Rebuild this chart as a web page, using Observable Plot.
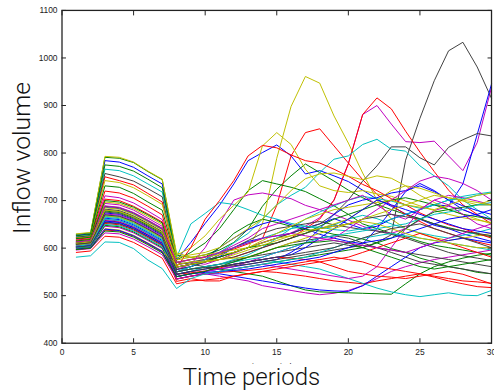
<!DOCTYPE html>
<html><head><meta charset="utf-8">
<script src="https://cdn.jsdelivr.net/npm/d3@7"></script>
<script src="https://cdn.jsdelivr.net/npm/@observablehq/plot@0.6"></script>
<style>
html,body{margin:0;padding:0;background:#fff;overflow:hidden;}
#wrap{position:relative;width:494px;height:390px;overflow:hidden;}
#xlabel{position:absolute;left:0;top:364px;width:503px;text-align:center;font-family:Roboto,sans-serif;font-weight:300;font-size:24px;line-height:26px;color:#111;}
#xlabel span{background:#fff;display:inline-block;padding:0 3px;}
</style></head><body>
<div id="wrap"><div id="chart"></div><div id="xlabel"><span>Time periods</span></div></div>
<script>
const periods = [1,2,3,4,5,6,7,8,9,10,11,12,13,14,15,16,17,18,19,20,21,22,23,24,25,26,27,28,29,30];
const xTicks = [0,5,10,15,20,25,30];
const yTicks = [400,500,600,700,800,900,1000,1100];
const palette = ["#0000ff","#008000","#ff0000","#00bfbf","#bf00bf","#bfbf00","#404040"];

const s00 = [627,630,784,781,770,752,735,575,612,652,690,735,784,801,817,794,756,763,752,740,722,703,688,672,661,648,641,630,622,614];
const s01 = [629,632,791,789,780,761,744,585,580,586,596,612,640,688,724,752,777,759,741,722,706,692,681,671,662,651,643,636,629,624];
const s02 = [622,625,750,742,733,715,697,570,576,582,589,598,609,620,690,794,843,851,815,779,744,713,690,671,656,641,631,622,613,606];
const s03 = [624,627,766,763,752,735,718,580,651,673,696,692,681,669,661,652,646,641,649,661,669,662,651,641,632,626,621,627,633,641];
const s04 = [617,620,710,706,695,678,660,565,570,566,576,589,601,612,621,632,646,664,701,778,881,900,861,824,822,825,794,763,822,938];
const s05 = [630,633,793,791,781,762,745,590,581,576,581,591,601,651,789,898,961,947,878,821,758,701,661,641,631,622,616,621,626,631];
const s06 = [623,626,757,750,741,725,708,570,566,561,566,574,581,586,591,596,601,606,611,606,601,612,628,785,873,952,1015,1033,981,915];
const s07 = [612,615,686,683,672,656,639,555,561,571,582,601,614,621,626,631,642,651,662,651,641,646,661,671,681,691,689,735,839,945];
const s08 = [626,629,775,772,762,745,727,575,591,611,641,681,721,742,735,728,719,704,689,671,651,641,631,624,614,606,601,596,591,585];
const s09 = [619,622,720,716,705,688,670,560,566,571,576,581,591,601,611,621,641,661,701,777,881,916,893,846,802,761,722,691,671,651];
const s10 = [608,611,670,667,656,640,623,560,566,576,591,611,631,661,691,711,728,759,787,794,818,829,808,804,773,752,731,701,681,661];
const s11 = [614,617,694,691,680,663,646,555,566,601,652,701,712,716,710,704,690,681,671,659,646,636,631,641,659,679,688,681,669,658];
const s12 = [621,624,742,738,727,710,692,585,601,626,661,690,718,815,843,818,766,731,721,717,721,714,709,699,689,679,671,664,659,654];
const s13 = [613,616,688,685,674,658,641,565,571,576,581,591,601,611,621,631,641,651,671,701,741,773,813,813,790,775,812,828,841,836];
const s14 = [609,612,674,671,660,644,627,550,561,576,601,621,639,651,659,649,641,629,621,614,609,641,679,719,736,721,701,689,679,671];
const s15 = [620,623,731,728,715,697,680,570,576,581,601,631,649,661,654,646,639,636,629,626,619,611,599,591,579,571,561,556,549,546];
const s16 = [616,619,703,700,688,672,655,560,601,661,700,742,794,816,811,796,784,779,766,751,734,721,704,691,674,661,649,641,631,621];
const s17 = [607,610,667,664,653,637,620,545,551,561,566,576,586,601,621,641,661,676,689,701,709,704,699,691,684,691,701,709,714,718];
const s18 = [608,611,672,669,658,642,625,545,551,546,541,536,531,521,516,511,506,502,505,511,521,536,551,561,569,576,581,586,591,596];
const s19 = [615,618,697,694,683,667,650,580,586,591,601,621,641,661,691,721,746,756,758,751,744,752,747,731,711,696,681,671,661,651];
const s20 = [611,614,682,679,668,652,635,555,561,571,586,601,616,631,641,646,651,656,649,644,639,636,629,621,611,601,591,584,579,574];
const s21 = [605,608,663,660,649,633,616,540,546,551,556,561,566,571,576,591,611,641,671,691,701,706,716,721,731,719,701,681,669,661];
const s22 = [615,618,700,697,686,670,653,550,556,561,556,551,546,541,531,521,512,508,507,506,505,504,503,525,546,561,571,579,585,589];
const s23 = [604,607,658,655,644,628,611,530,536,531,531,541,546,551,549,545,541,536,531,528,525,531,536,541,546,539,531,525,519,517];
const s24 = [606,609,665,662,651,635,618,540,546,551,561,566,571,576,571,566,561,556,546,536,526,516,508,502,498,502,506,501,500,511];
const s25 = [604,607,660,657,646,630,613,560,566,576,591,606,621,641,651,661,671,681,691,701,711,691,671,661,681,701,711,706,699,691];
const s26 = [612,615,685,682,671,655,638,575,581,586,591,596,601,611,621,626,631,641,651,661,681,701,721,731,726,716,706,699,691,701];
const s27 = [610,613,680,677,666,650,633,550,556,561,566,571,581,591,601,611,616,621,626,621,611,601,591,581,571,566,561,556,551,546];
const s28 = [603,606,657,654,643,627,610,535,541,546,546,541,536,531,526,521,516,512,510,509,521,541,561,581,601,611,616,621,616,611];
const s29 = [610,613,678,675,664,648,631,560,566,571,581,591,601,606,611,621,631,646,661,671,681,691,701,706,699,691,681,671,666,661];
const s30 = [602,605,652,649,638,622,605,545,548,552,558,566,571,576,581,579,576,571,561,551,546,541,539,536,541,546,551,545,535,525];
const s31 = [604,607,661,658,647,631,614,550,561,576,591,601,611,621,631,641,646,644,639,636,641,651,661,671,681,691,701,704,711,716];
const s32 = [600,603,646,643,632,616,599,540,546,551,556,561,571,581,591,601,611,616,621,641,661,681,701,721,741,751,746,736,721,701];
const s33 = [607,610,668,665,654,638,621,570,576,581,586,591,601,616,631,646,661,671,681,686,691,696,701,691,686,681,691,701,711,716];
const s34 = [609,612,676,673,662,646,629,560,566,571,576,581,591,601,611,621,631,641,646,651,661,666,671,666,661,651,641,636,631,626];
const s35 = [602,605,655,652,641,625,608,545,551,556,561,566,571,576,581,586,601,621,641,661,681,701,691,681,671,661,651,641,636,631];
const s36 = [600,603,648,645,634,618,601,535,541,546,551,556,561,566,571,576,581,586,591,596,601,611,621,641,661,676,681,686,691,691];
const s37 = [597,600,638,636,625,609,592,535,541,546,549,551,553,556,561,566,571,576,581,576,571,561,556,551,546,541,536,531,529,526];
const s38 = [601,604,650,647,636,620,603,550,556,561,566,571,576,581,591,601,611,621,626,631,636,641,646,651,661,671,676,681,691,696];
const s39 = [596,599,632,630,619,603,586,535,541,546,551,556,561,566,561,556,551,546,541,536,541,561,601,641,681,701,691,671,651,641];
const s40 = [598,601,641,638,627,611,594,565,571,573,576,579,581,591,601,611,621,631,641,651,661,671,681,691,701,711,706,701,696,691];
const s41 = [602,605,654,651,640,624,607,550,556,559,561,563,566,571,576,581,586,591,596,601,606,601,596,591,586,581,576,571,566,561];
const s42 = [598,601,640,637,626,610,593,540,546,549,551,553,556,561,566,571,576,581,591,601,611,616,621,631,641,651,661,666,671,681];
const s43 = [597,600,636,634,623,607,590,540,546,551,561,571,581,591,601,606,611,613,616,611,601,591,581,571,561,556,561,566,571,576];
const s44 = [591,594,625,623,612,596,579,525,531,533,536,541,546,551,556,561,566,571,576,581,591,601,611,621,631,621,611,601,591,581];
const s45 = [581,584,613,612,599,575,557,515,536,546,551,556,561,566,571,576,581,591,601,611,621,626,631,626,621,616,611,606,601,596];
const s46 = [613,616,689,686,675,659,642,570,576,581,591,601,611,621,626,631,626,621,616,611,606,601,596,591,601,611,621,631,641,651];
const s47 = [610,613,680,677,666,650,633,560,566,571,576,586,596,606,616,626,636,641,646,651,656,651,641,631,621,616,611,606,601,601];
const s48 = [608,611,670,667,656,640,623,545,551,556,561,566,571,576,581,586,591,596,601,611,621,631,641,646,651,641,631,621,611,601];

const allSeries = [s00,s01,s02,s03,s04,s05,s06,s07,s08,s09,s10,s11,s12,s13,s14,s15,s16,s17,s18,s19,s20,s21,s22,s23,s24,s25,s26,s27,s28,s29,s30,s31,s32,s33,s34,s35,s36,s37,s38,s39,s40,s41,s42,s43,s44,s45,s46,s47,s48];

const rows = allSeries.flatMap((vals, k) => vals.map((v, j) => ({t: periods[j], v, k, c: palette[k % palette.length]})));

const chart = Plot.plot({
  width: 498, height: 390,
  marginLeft: 62, marginRight: 3, marginTop: 10, marginBottom: 44.5,
  style: {fontFamily: "'Liberation Sans', Arial, sans-serif", fontSize: "8.5px", color: "#222", background: "white"},
  x: {domain: [0, 30]},
  y: {domain: [400, 1100]},
  color: {type: "identity"},
  marks: [
    Plot.line(rows, {x: "t", y: "v", z: "k", stroke: "c", strokeWidth: 1}),
    Plot.frame({stroke: "#222", strokeWidth: 1.3}),
    Plot.axisX({ticks: xTicks, anchor: "bottom", tickSize: -4.5, tickPadding: 10, tickFormat: d => String(d), label: "Time periods", labelAnchor: "center", labelOffset: 27}),
    Plot.axisX({ticks: xTicks, anchor: "top", tickSize: -4.5, tickFormat: () => "", label: null}),
    Plot.axisY({ticks: yTicks, anchor: "left", tickSize: -4.5, tickPadding: 9, tickFormat: d => String(d), label: null}),
    Plot.axisY({ticks: yTicks, anchor: "right", tickSize: -4.5, tickFormat: () => "", label: null}),
    Plot.text(["Inflow volume"], {frameAnchor: "left", textAnchor: "middle", rotate: -90, dx: -32, dy: -19, fontSize: 25, fontWeight: 300, fontFamily: "Roboto, sans-serif", lineAnchor: "bottom", fill: "#111"})
  ]
});
document.getElementById("chart").appendChild(chart);
</script>
</body></html>
